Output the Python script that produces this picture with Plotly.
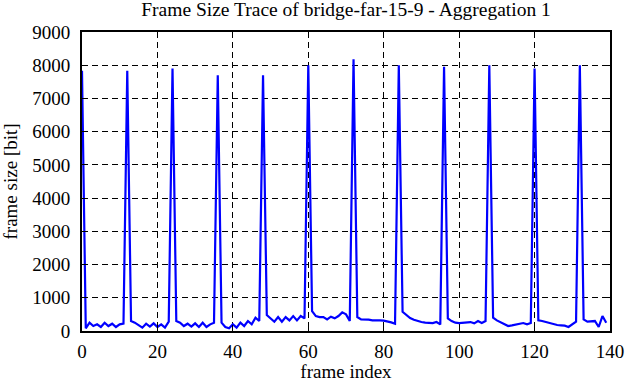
import plotly.graph_objects as go

frame_index = list(range(140))
frame_size = [
    7830, 80, 250, 150, 200, 120, 250, 150, 220, 120, 200, 220,
    7830, 300, 250, 180, 100, 220, 130, 230, 120, 200, 100, 280,
    7900, 300, 250, 150, 220, 130, 230, 120, 250, 120, 200, 250,
    7700, 250, 120, 80, 200, 100, 250, 150, 300, 200, 400, 300,
    7700, 480, 380, 280, 420, 280, 420, 320, 450, 320, 450, 380,
    8000, 600, 450, 420, 420, 350, 430, 380, 450, 560, 500, 300,
    8180, 420, 350, 350, 340, 320, 330, 320, 310, 290, 260, 220,
    8000, 580, 470, 390, 340, 300, 270, 250, 240, 240, 270, 200,
    7950, 380, 300, 250, 240, 250, 250, 270, 230, 300, 240, 300,
    8000, 400, 320, 270, 200, 150, 170, 200, 220, 240, 200, 240,
    7900, 320, 300, 270, 230, 200, 180, 170, 160, 120, 200, 280,
    8000, 350, 280, 280, 300, 120, 450, 250,
]

x_ticks = [0, 20, 40, 60, 80, 100, 120, 140]
y_ticks = [0, 1000, 2000, 3000, 4000, 5000, 6000, 7000, 8000, 9000]

FONT = "Liberation Serif"

fig = go.Figure()
fig.add_trace(go.Scatter(
    x=frame_index, y=frame_size, mode="lines",
    line=dict(color="#0000ff", width=2.2),
    showlegend=False, hoverinfo="skip",
))


def axis_style(standoff):
    return dict(
        showline=True, linecolor="black", linewidth=2, mirror="allticks",
        ticks="inside", ticklen=6, tickwidth=1, tickcolor="black",
        showgrid=True, gridcolor="black", gridwidth=1, griddash="6px,4px",
        zeroline=False, automargin=False, ticklabelstandoff=standoff,
        tickfont=dict(family=FONT, size=19, color="black"),
    )


fig.update_layout(
    width=626, height=382,
    margin=dict(l=82, r=16, t=32, b=51, autoexpand=False),
    paper_bgcolor="white", plot_bgcolor="white",
    font=dict(family=FONT, color="black", size=19),
    title=dict(text="Frame Size Trace of bridge-far-15-9 - Aggregation 1",
               x=(82 + 264) / 626, xanchor="center", y=1 - 2.5 / 382, yanchor="top",
               font=dict(family=FONT, size=19.5, color="black")),
    xaxis=dict(range=[0, 140], tickvals=x_ticks,
               title=dict(text="frame index", font=dict(family=FONT, size=19), standoff=13),
               **axis_style(2)),
    yaxis=dict(range=[0, 9000], tickvals=y_ticks,
               title=dict(text="frame size [bit]", font=dict(family=FONT, size=19), standoff=14),
               **axis_style(6)),
)

# remove the page's default body margin so the figure sits at the window corner
fig.write_html("out.html",
               config={"displayModeBar": False, "staticPlot": True},
               post_script="document.body.style.margin='0px';")
